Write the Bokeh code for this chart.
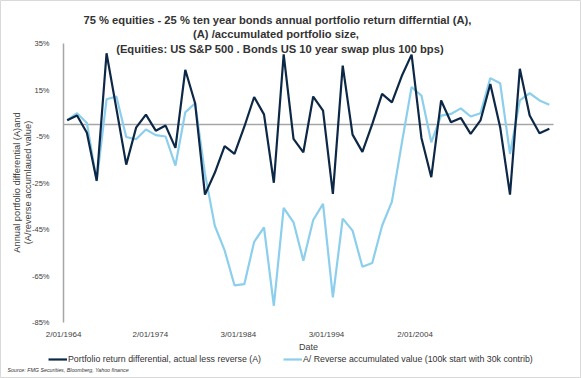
import numpy as np
from bokeh.plotting import figure
from bokeh.models import (ColumnDataSource, FixedTicker, Label, Legend, LegendItem, Range1d, LinearAxis)
from bokeh.embed import file_html
from bokeh.resources import INLINE

# ---- data ----
diff_series = [2.0, 4.0, -3.4, -24.0, 30.8, 7.0, -17.1, -1.2, 4.4, -2.5,
               -0.3, -9.9, 23.7, 9.3, -30.0, -20.6, -9.1, -12.5, -0.8, 12.0,
               4.5, -24.9, 30.3, -6.0, -11.8, 12.2, 6.1, -29.7, 25.5, -4.2,
               -11.6, 0.3, 13.3, 9.7, 21.0, 30.2, -5.6, -22.5, 10.5, 1.1,
               3.0, -3.9, 1.9, 17.6, -1.0, -30.0, 24.1, 4.0, -3.6, -1.7]
reverse_series = [2.0, 5.0, 0.8, -24.2, 11.0, 12.2, -5.2, -6.2, -2.0, -4.4,
                  -5.0, -17.5, 5.4, 9.3, -21.0, -43.4, -54.0, -69.0, -68.5, -50.3,
                  -44.1, -77.8, -35.7, -41.9, -58.4, -40.9, -34.0, -74.2, -40.3, -45.5,
                  -61.0, -59.4, -43.4, -33.0, -8.0, 16.3, 12.6, -7.5, 4.0, 4.7,
                  7.1, 3.6, 5.0, 20.1, 17.9, -12.5, 10.5, 13.6, 10.5, 8.7]
x_tick_labels = ["2/01/1964", "2/01/1974", "3/01/1984", "3/01/1994", "2/01/2004"]
x_tick_pos = [-0.37, 8.45, 17.4, 26.35, 35.35]
y_tick_vals = [35, 15, -5, -25, -45, -65, -85]
y_tick_labels = ["35%", "15%", "-5%", "-25%", "-45%", "-65%", "-85%"]

series_names = ["Portfolio return differential, actual less reverse (A)",
                "A/ Reverse accumulated value (100k start with 30k contrib)"]
title_lines = ["75 % equities - 25 % ten year bonds  annual portfolio return differntial (A),",
               "(A) /accumulated portfolio size,",
               "(Equities: US S&P 500 . Bonds US 10 year swap plus 100 bps)"]
ylabel_lines = ["Annual portfolio differential (A)and", "(A/reverse accumlaued value)"]
source_text = "Source: FMG Securities, Bloomberg,  Yahoo finance"

DARK = "#0d2847"
LIGHT = "#8ccfec"
GREY = "#a6a6a6"
TXT = "#404040"
FONT = "Liberation Sans"

W, H = 581, 378
# plot-area geometry (pixels) and value scale
PL, PT, PR, PB = 63, 43, 553, 322
XS = 9.84            # px per category step
XA = -0.376          # category value at left edge of plot area
YTOP, YBOT = 35, -85
YS = (PB - PT) / (YTOP - YBOT)

def X(px):
    return XA + (px - PL) / XS

def Y(py):
    return YTOP - (py - PT) / YS

idx = np.arange(len(diff_series))
src = ColumnDataSource(dict(x=idx, diff=diff_series, rev=reverse_series))

p = figure(width=W, height=H, output_backend="svg", toolbar_location=None,
           x_range=Range1d(X(0), X(W)), y_range=Range1d(Y(H), Y(0)),
           min_border_left=0, min_border_right=0, min_border_top=0, min_border_bottom=0,
           x_axis_location="below", y_axis_location="left")
p.outline_line_color = "#d9d9d9"
p.outline_line_width = 1
p.grid.visible = False
p.background_fill_color = "white"
p.border_fill_color = "white"
p.title.visible = False

r_light = p.line("x", "rev", source=src, line_color=LIGHT, line_width=2.2)
r_dark = p.line("x", "diff", source=src, line_color=DARK, line_width=2.2)

def strip_ticks(ax):
    ax.major_tick_line_color = None
    ax.minor_tick_line_color = None
    ax.major_tick_out = 0
    ax.major_tick_in = 0
    ax.minor_tick_out = 0
    ax.minor_tick_in = 0

# y axis (fixed at left edge of plot area)
ya = p.yaxis[0]
ya.fixed_location = XA
ya.bounds = (YBOT, YTOP)
ya.ticker = FixedTicker(ticks=y_tick_vals)
ya.major_label_overrides = {v: l for v, l in zip(y_tick_vals, y_tick_labels)}
ya.axis_line_color = GREY
ya.axis_line_width = 1.5
strip_ticks(ya)
ya.major_label_standoff = 14
ya.major_label_text_font = FONT
ya.major_label_text_font_size = "7.5px"
ya.major_label_text_color = TXT

# horizontal axis crossing at zero (line only)
zero_axis = LinearAxis(fixed_location=0, bounds=(XA, X(PR)), axis_line_color=GREY,
                       axis_line_width=1.5, major_label_text_color=None,
                       ticker=FixedTicker(ticks=[]))
strip_ticks(zero_axis)
zero_axis.level = "underlay"
p.add_layout(zero_axis, "below")

# category labels at the bottom of the plot area
xa = p.xaxis[0]
xa.fixed_location = YBOT
xa.bounds = (XA, X(PR))
xa.ticker = FixedTicker(ticks=x_tick_pos)
xa.major_label_overrides = {v: l for v, l in zip(x_tick_pos, x_tick_labels)}
xa.axis_line_color = None
strip_ticks(xa)
xa.major_label_standoff = 7
xa.major_label_text_font = FONT
xa.major_label_text_font_size = "8px"
xa.major_label_text_color = TXT
xa.axis_label = "Date"
xa.axis_label_standoff = 0
xa.axis_label_text_font = FONT
xa.axis_label_text_font_style = "normal"
xa.axis_label_text_font_size = "9px"
xa.axis_label_text_color = TXT

# titles
for (cx, cy), line in zip([(278.5, 19), (275.5, 33), (279.5, 48)], title_lines):
    p.add_layout(Label(x=X(cx), y=Y(cy), text=line, text_align="center",
                       text_baseline="middle", text_font=FONT, text_font_style="bold",
                       text_font_size="11.2px", text_color="#333333"))

# y axis title (two rotated lines)
for cx, line in zip([16, 27.5], ylabel_lines):
    p.add_layout(Label(x=X(cx), y=Y(182), text=line, angle=np.pi / 2,
                       text_align="center", text_baseline="middle", text_font=FONT,
                       text_font_size="9.3px", text_color=TXT))

# source note
p.add_layout(Label(x=X(7), y=Y(369), text=source_text, text_align="left",
                   text_baseline="middle", text_font=FONT, text_font_style="italic",
                   text_font_size="5.3px", text_color="#333333"))

legend = Legend(items=[LegendItem(label=series_names[0], renderers=[r_dark]),
                       LegendItem(label=series_names[1], renderers=[r_light])],
                orientation="horizontal", location=(48, 14),
                padding=0, margin=0, spacing=22, glyph_width=19, glyph_height=10,
                label_standoff=1, border_line_color=None, background_fill_alpha=0,
                label_text_font=FONT, label_text_font_size="8.8px", label_text_color="#333333",
                label_height=10)
p.add_layout(legend, "center")

open("out.html", "w").write(file_html(p, INLINE))
